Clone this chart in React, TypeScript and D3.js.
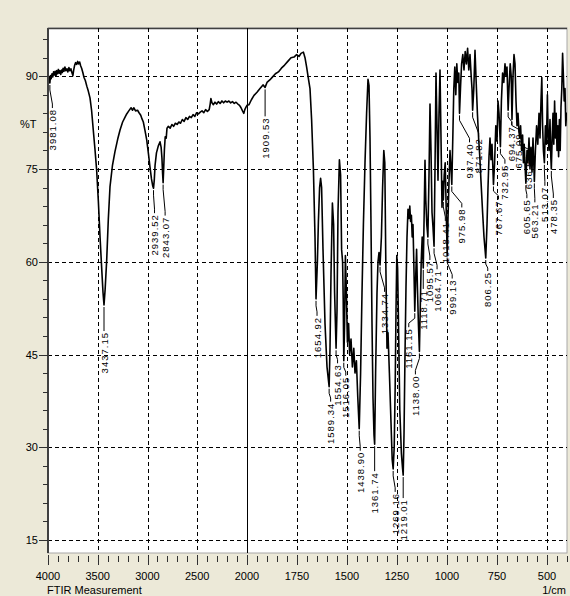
import React from 'react';
import * as d3 from 'd3';

// FTIR spectrum, [wavenumber (1/cm), %T]
const spectrumHigh: [number, number][] = [
  [4000, 89.0], [3993, 89.9], [3987, 89.5], [3981.08, 88.9], [3975, 90.1], [3968, 89.6], [3960, 90.4],
  [3952, 89.9], [3944, 90.7], [3936, 90.2], [3928, 90.8], [3920, 90.0], [3912, 90.9], [3904, 90.4],
  [3896, 91.1], [3888, 90.5], [3880, 90.9], [3872, 90.3], [3864, 91.0], [3856, 90.6], [3848, 91.3],
  [3840, 90.8], [3830, 91.5], [3820, 90.9], [3810, 91.2], [3800, 90.7], [3790, 91.4], [3780, 90.9],
  [3770, 91.2], [3760, 90.6], [3750, 90.1], [3742, 91.0], [3732, 91.8], [3722, 92.2], [3712, 91.9],
  [3702, 92.4], [3692, 92.0], [3682, 92.3], [3672, 91.7], [3662, 91.3], [3650, 90.6], [3638, 89.8],
  [3625, 89.3], [3610, 88.4], [3595, 87.6], [3578, 86.5], [3562, 84.5], [3545, 81.3], [3528, 78.2],
  [3511, 74.8], [3494, 69.8], [3477, 64.0], [3460, 58.8], [3447, 55.0], [3437.15, 53.0], [3426, 55.5],
  [3410, 60.3], [3394, 66.8], [3377, 72.1], [3352, 75.6], [3327, 77.8], [3300, 79.8], [3276, 81.3],
  [3250, 82.6], [3228, 83.3], [3209, 83.9], [3188, 84.4], [3165, 84.9], [3150, 84.5], [3138, 84.9],
  [3120, 84.4], [3100, 84.5], [3085, 84.1], [3068, 83.7], [3055, 83.1], [3042, 82.6], [3025, 81.2],
  [3008, 79.7], [2990, 77.4], [2975, 75.3], [2960, 73.4], [2948, 72.3], [2939.52, 71.9], [2932, 73.2],
  [2924, 75.6], [2910, 77.6], [2892, 78.7], [2874, 79.4], [2863, 78.5], [2855, 76.8], [2848, 74.2],
  [2843.07, 72.8], [2837, 75.2], [2830, 78.2], [2822, 80.2], [2812, 80.0], [2804, 81.6], [2790, 81.9],
  [2772, 81.6], [2755, 82.2], [2738, 81.9], [2720, 82.4], [2702, 82.2], [2685, 82.6], [2668, 82.4],
  [2650, 83.0], [2632, 82.7], [2614, 83.3], [2596, 83.0], [2578, 83.5], [2560, 83.3], [2542, 83.8],
  [2524, 83.5], [2506, 84.1], [2488, 83.9], [2470, 84.2], [2452, 84.4], [2434, 84.1], [2416, 84.6],
  [2398, 84.3], [2380, 84.6], [2370, 85.5], [2363, 86.4], [2352, 85.7], [2338, 85.4], [2322, 85.8],
  [2305, 85.5], [2288, 85.9], [2270, 85.6], [2252, 86.0], [2235, 85.7], [2218, 86.0], [2200, 85.8],
  [2182, 86.0], [2164, 85.7], [2146, 85.9], [2128, 85.6], [2110, 85.8], [2092, 85.5], [2075, 85.3],
  [2060, 84.9], [2045, 84.4], [2032, 84.0], [2022, 84.6], [2010, 85.0], [2000, 85.3],
];

const spectrumLow: [number, number][] = [
  [1990, 85.4], [1978, 86.2], [1965, 86.9], [1950, 87.4], [1935, 88.0], [1920, 88.6], [1909.53, 88.2],
  [1900, 89.0], [1886, 89.4], [1872, 89.9], [1858, 90.4], [1843, 90.7], [1828, 91.3], [1812, 91.8],
  [1796, 92.4], [1780, 93.0], [1765, 93.1], [1752, 93.5], [1740, 93.2], [1730, 93.7], [1718, 93.9],
  [1710, 93.0], [1702, 91.5], [1693, 89.6], [1685, 88.0], [1677, 83.0], [1668, 75.0], [1660, 64.0],
  [1654.92, 54.0], [1648, 60.0], [1643, 66.5], [1637, 72.0], [1632, 73.5], [1627, 72.0], [1620, 62.0],
  [1610, 50.0], [1600, 43.0], [1589.34, 39.8], [1585, 46.0], [1580, 58.0], [1573, 69.5], [1567, 66.0],
  [1562, 55.0], [1554.63, 46.0], [1550, 52.0], [1545, 68.0], [1538, 76.5], [1532, 74.0], [1527, 62.0],
  [1522, 60.0], [1519, 54.0], [1516.05, 44.0], [1512, 50.0], [1508, 61.0], [1503, 55.0], [1498, 47.0],
  [1492, 50.0], [1487, 45.0], [1480, 47.5], [1473, 43.0], [1466, 46.0], [1460, 42.0], [1453, 44.0],
  [1446, 38.0], [1438.9, 33.0], [1432, 42.0], [1425, 55.0], [1418, 66.0], [1410, 76.0], [1402, 84.0],
  [1395, 89.5], [1390, 88.5], [1385, 80.0], [1380, 66.0], [1375, 50.0], [1370, 38.0], [1365, 32.0],
  [1361.74, 30.5], [1357, 42.0], [1350, 55.0], [1345, 60.0], [1340, 61.5], [1334.74, 59.5], [1328, 64.0],
  [1322, 72.0], [1316, 78.0], [1311, 76.0], [1306, 60.0], [1300, 46.0], [1295, 48.5], [1288, 42.0],
  [1280, 34.0], [1274, 28.0], [1269.16, 26.5], [1264, 30.0], [1259, 40.0], [1255, 52.0], [1251, 61.0],
  [1247, 59.0], [1242, 49.0], [1236, 36.0], [1228, 29.0], [1222, 26.5], [1219.01, 25.5], [1215, 32.0],
  [1210, 45.0], [1205, 56.0], [1200, 64.0], [1195, 68.5], [1190, 67.0], [1186, 69.0], [1182, 66.5],
  [1178, 67.5], [1174, 64.0], [1170, 66.0], [1166, 60.0], [1161.15, 52.0], [1156, 58.0], [1152, 62.0],
  [1148, 56.0], [1143, 50.0], [1138, 45.5], [1134, 52.0], [1129, 60.0], [1124, 64.0], [1118.71, 59.0],
  [1114, 68.0], [1110, 76.4], [1106, 70.0], [1101, 66.0], [1095.57, 64.0], [1090, 74.0], [1085, 85.5],
  [1080, 78.0], [1075, 68.0], [1070, 65.6], [1064.71, 62.5], [1060, 75.0], [1055, 90.5], [1050, 82.0],
  [1045, 73.2], [1040, 84.0], [1035, 91.0], [1030, 80.0], [1025, 68.8], [1021, 73.0], [1018.41, 70.0],
  [1014, 74.0], [1009, 76.0], [1005, 70.0], [999.13, 61.0], [995, 67.0], [990, 73.0], [985, 78.0],
  [980, 75.0], [975.98, 72.5], [971, 80.0], [966, 88.0], [961, 91.5], [956, 87.0], [951, 92.0],
  [946, 89.0], [941, 90.5], [937.4, 84.0], [932, 88.5], [927, 92.0], [921, 93.5], [915, 91.0],
  [909, 94.0], [903, 92.0], [897, 94.5], [891, 91.0], [885, 93.5], [879, 90.0], [875, 88.0],
  [871.82, 84.5], [866, 88.0], [860, 94.2], [854, 89.0], [848, 84.0], [842, 80.0], [836, 77.0],
  [830, 73.0], [822, 68.0], [815, 64.0], [806.25, 60.6], [800, 66.0], [795, 72.0], [790, 77.0],
  [785, 80.0], [780, 76.5], [775, 79.0], [767.67, 72.5], [762, 76.0], [756, 82.0], [750, 79.5],
  [745, 86.0], [740, 84.0], [732.95, 78.6], [728, 86.0], [722, 90.5], [716, 89.0], [710, 92.0],
  [705, 90.0], [700, 91.5], [694.37, 84.5], [690, 88.0], [684, 92.0], [679, 90.0], [675.09, 83.0],
  [670, 90.0], [665, 93.5], [660, 92.0], [655, 86.0], [650, 82.0], [645, 84.0], [640, 81.0],
  [636.51, 80.0], [632, 82.0], [627, 78.0], [622, 80.5], [618, 76.0], [614, 79.0], [609, 75.0],
  [605.65, 72.7], [600, 78.0], [595, 76.0], [590, 80.0], [585, 75.0], [580, 78.5], [575, 74.5],
  [570, 80.0], [563.21, 73.0], [558, 78.0], [552, 82.0], [546, 79.0], [540, 84.0], [535, 80.0],
  [530, 86.0], [526, 89.8], [522, 82.0], [518, 78.0], [513.07, 76.0], [508, 82.0], [503, 79.0],
  [498, 87.0], [494, 80.0], [490, 78.0], [485, 83.0], [481, 77.0], [478.35, 75.0], [474, 80.0],
  [470, 84.0], [466, 79.0], [462, 86.0], [458, 80.0], [454, 84.0], [450, 78.0], [446, 82.0],
  [442, 77.0], [438, 83.0], [434, 78.0], [430, 85.0], [426, 88.0], [422, 93.7], [418, 90.0],
  [414, 86.0], [410, 88.0], [406, 82.0], [402, 84.0], [400, 83.0],
];

// labelled peaks
const peakWavenumbers = [
  3981.08, 3437.15, 2939.52, 2843.07, 1909.53, 1654.92, 1589.34, 1554.63, 1516.05, 1438.9, 1361.74,
  1334.74, 1269.16, 1219.01, 1161.15, 1138.0, 1118.71, 1095.57, 1064.71, 1018.41, 999.13, 975.98,
  937.4, 871.82, 806.25, 767.67, 732.95, 694.37, 675.09, 636.51, 605.65, 563.21, 513.07, 478.35,
];

const xMajorTicks = [4000, 3500, 3000, 2500, 2000, 1750, 1500, 1250, 1000, 750, 500];
const yMajorTicks = [15, 30, 45, 60, 75, 90];

// label placement: [shift of text from peak in px, leader length in px]
const labelLayout: [number, number][] = [
  [2.5, 24], [0, 25], [1, 24], [2, 32], [0, 28], [1, 16], [1.5, 14], [1.5, 14], [2, 14], [1, 21], [0, 26],
  [4.5, 26], [2, 22], [0, 22], [-6, 15], [-4, 22], [0, 20], [2, 22], [3, 22], [2, 20], [5, 22], [10, 22],
  [10, 28], [6, 26], [2, 12], [5, 14], [4.5, 16], [3.5, 14], [7, 12], [9, 14], [1, 14], [0.5, 20], [0.5, 22],
  [2, 28],
];

const W = 570;
const H = 596;
const plot = { left: 48, right: 567, top: 28, bottom: 553 };
const bg = '#ece9d8';
const font = '"Liberation Sans", Arial, sans-serif';

export default function App() {
  const x = d3.scaleLinear().domain([4000, 2000, 400]).range([plot.left, 247, plot.right]);
  const y = d3.scaleLinear().domain([12.9, 97.8]).range([plot.bottom, plot.top]);

  const spectrum = spectrumHigh.concat(spectrumLow);
  const line = d3.line<[number, number]>().x(d => x(d[0])).y(d => y(d[1]));

  const tAt = (wn: number) => {
    for (let i = 0; i < spectrum.length - 1; i++) {
      const a = spectrum[i], b = spectrum[i + 1];
      if (wn <= a[0] && wn >= b[0]) {
        const f = (a[0] - wn) / (a[0] - b[0] || 1);
        return a[1] + (b[1] - a[1]) * f;
      }
    }
    return spectrum[spectrum.length - 1][1];
  };

  const minorX = d3.range(4000, 2000, -100).concat(d3.range(2000, 399, -50));
  const minorY = d3.range(15, 98, 3);
  const gridX = xMajorTicks.filter(d => d !== 4000);

  return (
    <div style={{ position: 'absolute', left: 0, top: 0, width: W, height: H, background: bg }}>
      <svg width={W} height={H} style={{ display: 'block' }} fontFamily={font}>
        <defs>
          <clipPath id="plotclip">
            <rect x={plot.left} y={plot.top} width={plot.right - plot.left} height={plot.bottom - plot.top} />
          </clipPath>
        </defs>
        <rect x={0} y={0} width={W} height={H} fill={bg} />
        <rect x={plot.left} y={plot.top} width={plot.right - plot.left} height={plot.bottom - plot.top}
          fill="#fff" stroke="#a8a8a8" strokeWidth={1} />
        <line x1={plot.left} x2={plot.right} y1={plot.top + 0.5} y2={plot.top + 0.5} stroke="#404040" strokeWidth={1.5} />

        {/* grid */}
        {yMajorTicks.map(v => (
          <line key={'gy' + v} x1={plot.left} x2={plot.right} y1={Math.round(y(v)) + 0.5} y2={Math.round(y(v)) + 0.5}
            stroke="#000" strokeDasharray="4 3" />
        ))}
        {gridX.map(v => (
          <line key={'gx' + v} x1={Math.round(x(v)) + 0.5} x2={Math.round(x(v)) + 0.5} y1={plot.top} y2={plot.bottom}
            stroke="#000" strokeDasharray={v === 2000 ? undefined : '4 3'} />
        ))}

        {/* spectrum */}
        <path d={line(spectrum) || ''} fill="none" stroke="#000" strokeWidth={1.6} strokeLinejoin="round"
          clipPath="url(#plotclip)" />

        {/* peak labels */}
        {peakWavenumbers.map((wn, i) => {
          const [dx, gap] = labelLayout[i];
          const xp = x(wn);
          const yp = y(tAt(wn)) + 2;
          const xt = xp + dx;
          const yt = yp + gap;
          const pts = dx === 0
            ? [[xp, yp], [xp, yt - 1]]
            : [[xp, yp], [xp, yp + Math.min(5, gap / 3)], [xt, yt - Math.min(5, gap / 3)], [xt, yt - 1]];
          return (
            <g key={'p' + wn}>
              <polyline points={pts.map(p => p.join(',')).join(' ')} fill="none" stroke="#000" strokeWidth={1} />
              <text x={xt} y={yt} transform={`rotate(-90 ${xt} ${yt})`} textAnchor="end" dominantBaseline="central"
                fontSize={9.5} letterSpacing={1} fill="#000">
                {wn.toFixed(2)}
              </text>
            </g>
          );
        })}

        {/* y axis */}
        <line x1={plot.left} x2={plot.left} y1={plot.top} y2={plot.bottom} stroke="#404040" strokeWidth={2} />
        {minorY.map(v => (
          <line key={'my' + v} x1={plot.left - 5} x2={plot.left} y1={Math.round(y(v)) + 0.5} y2={Math.round(y(v)) + 0.5}
            stroke="#303030" />
        ))}
        {yMajorTicks.map(v => (
          <g key={'ty' + v}>
            <line x1={plot.left - 9} x2={plot.left} y1={Math.round(y(v)) + 0.5} y2={Math.round(y(v)) + 0.5} stroke="#303030" />
            <text x={plot.left - 10} y={y(v) + 4} textAnchor="end" fontSize={11} fill="#000">{v}</text>
          </g>
        ))}
        <text x={20} y={128} fontSize={11} fill="#000">%T</text>

        {/* x axis */}
        {minorX.map(v => (
          <line key={'mx' + v} x1={Math.round(x(v)) + 0.5} x2={Math.round(x(v)) + 0.5} y1={plot.bottom + 3} y2={plot.bottom + 9}
            stroke="#303030" />
        ))}
        {xMajorTicks.map(v => (
          <g key={'tx' + v}>
            <line x1={Math.round(x(v)) + 0.5} x2={Math.round(x(v)) + 0.5} y1={plot.bottom + 2} y2={plot.bottom + 12} stroke="#303030" />
            <text x={x(v)} y={580} textAnchor="middle" fontSize={11} fill="#000">{v}</text>
          </g>
        ))}
        <text x={47} y={594} fontSize={11} fill="#000">FTIR Measurement</text>
        <text x={566} y={594} textAnchor="end" fontSize={11} fill="#000">1/cm</text>
      </svg>
    </div>
  );
}
